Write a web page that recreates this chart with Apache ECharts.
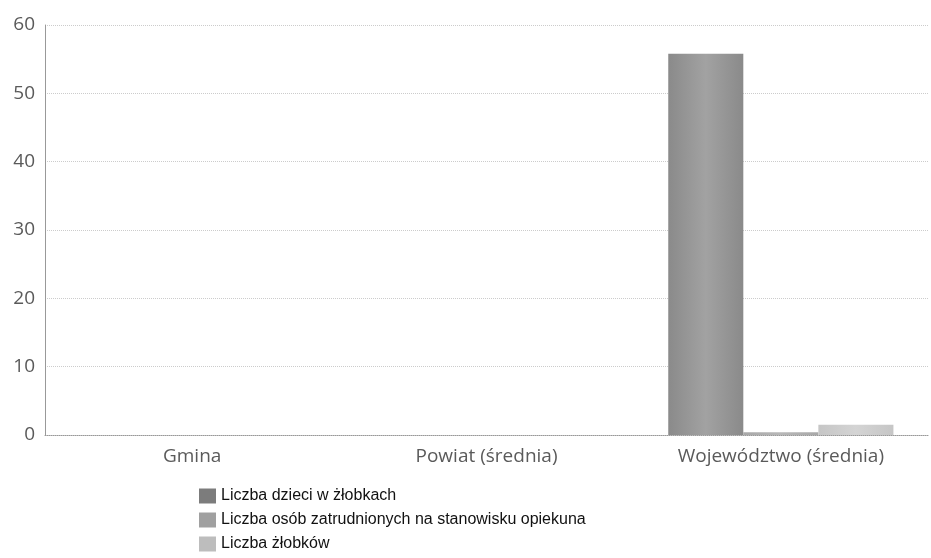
<!DOCTYPE html>
<html>
<head>
<meta charset="utf-8">
<script src="https://cdn.jsdelivr.net/npm/echarts@6/dist/echarts.min.js"></script>
<style>
  html, body { margin: 0; padding: 0; background: #fff; }
  #chart { width: 931px; height: 558px; }
</style>
</head>
<body>
<div id="chart"></div>
<script>
const categories = ['Gmina', 'Powiat (średnia)', 'Województwo (średnia)']
const seriesNames = [
  'Liczba dzieci w żłobkach',
  'Liczba osób zatrudnionych na stanowisku opiekuna',
  'Liczba żłobków'
]
const dzieci = [0, 0, 55.8]
const opiekunowie = [0, 0, 0.4]
const zlobki = [0, 0, 1.5]
const yTicks = [0, 10, 20, 30, 40, 50, 60]

const chart = echarts.init(document.getElementById('chart'))

function grad(c1, c2) {
  return new echarts.graphic.LinearGradient(0, 0, 1, 0, [
    { offset: 0, color: c1 },
    { offset: 0.5, color: c2 },
    { offset: 1, color: c1 }
  ])
}

const colors = [
  grad('#8a8a8a', '#a2a2a2'),
  grad('#a8a8a8', '#b8b8b8'),
  grad('#c6c6c6', '#d4d4d4')
]
const legendColors = ['#7c7c7c', '#a0a0a0', '#bdbdbd']

const option = {
  backgroundColor: '#fff',
  animation: false,
  grid: {
    left: 45,
    right: 3,
    top: 25,
    bottom: 123
  },
  legend: {
    orient: 'vertical',
    left: 199,
    top: 488,
    padding: 0,
    itemWidth: 17,
    itemHeight: 15,
    itemGap: 8,
    icon: 'rect',
    textStyle: {
      fontFamily: 'Liberation Sans',
      fontSize: 16,
      color: '#111'
    },
    data: seriesNames.map((n, i) => ({ name: n, itemStyle: { color: legendColors[i] } }))
  },
  xAxis: {
    type: 'category',
    data: categories,
    axisLine: { lineStyle: { color: '#999', type: 'dotted' } },
    axisTick: { show: false },
    axisLabel: {
      fontFamily: 'Open Sans',
      fontSize: 19,
      color: '#5a5a5a',
      margin: 12
    }
  },
  yAxis: {
    type: 'value',
    min: 0,
    max: 60,
    interval: 10,
    axisLine: { show: true, lineStyle: { color: '#999' } },
    axisTick: { show: false },
    axisLabel: {
      fontFamily: 'Open Sans',
      fontSize: 19,
      color: '#5a5a5a',
      margin: 10,
      formatter: v => yTicks.includes(v) ? String(v) : ''
    },
    splitLine: { lineStyle: { color: '#ccc', type: 'dotted' } }
  },
  series: [dzieci, opiekunowie, zlobki].map((d, i) => ({
    name: seriesNames[i],
    type: 'bar',
    data: d,
    barGap: '0%',
    barCategoryGap: '23.5%',
    itemStyle: { color: colors[i] }
  }))
}

chart.setOption(option)
</script>
</body>
</html>
